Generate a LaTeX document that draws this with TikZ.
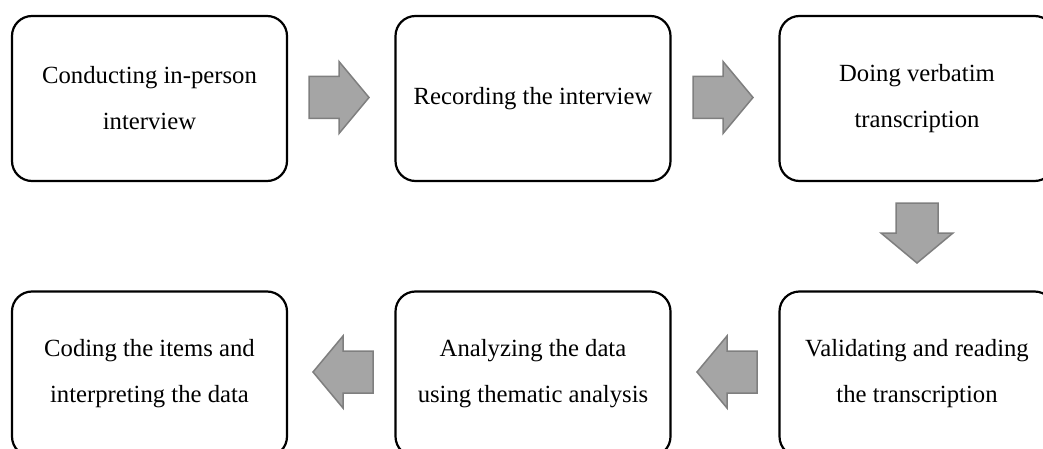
\documentclass[tikz,border=0pt]{standalone}
\usepackage{fontspec}
\setmainfont{Liberation Serif}
\definecolor{arrowfill}{RGB}{165,165,165}
\definecolor{arrowline}{RGB}{127,127,127}
\tikzset{
  stepbox/.style={draw=black, line width=2.2pt, rounded corners=20pt,
    minimum width=275pt, minimum height=165pt, inner sep=0pt,
    align=center, font=\fontsize{24.7}{46}\selectfont},
  flowarrow/.style={draw=arrowline, fill=arrowfill, line width=1.5pt,
    line join=miter},
  % block arrow pointing along +x, centred on the origin
  pics/blockarrow/.style={code={
    \path[flowarrow] (-30,-21) -- (0,-21) -- (0,-36) -- (30,0)
      -- (0,36) -- (0,21) -- (-30,21) -- cycle;
  }}
}
\begin{document}
\begin{tikzpicture}[x=1pt, y=-1pt]
  \useasboundingbox (0,0) rectangle (1043,449);
  \begin{scope}
    \clip (0,0) rectangle (1043,449);
    % top row
    \node[stepbox] (interview) at (149.5,98.5) {Conducting in-person\\interview};
    \node[stepbox] (record)    at (533,98.5)   {Recording the interview};
    \node[stepbox] (transcr)   at (917,98.5)   {Doing verbatim\\transcription};
    % bottom row
    \node[stepbox] (validate)  at (917,374)    {Validating and reading\\the transcription};
    \node[stepbox] (analyze)   at (533,374)    {Analyzing the data\\using thematic analysis};
    \node[stepbox] (coding)    at (149.5,374)  {Coding the items and\\interpreting the data};
    % anchor points of the block arrows between the steps
    \coordinate (a1) at (339,97.5);
    \coordinate (a2) at (723,97.5);
    \coordinate (a3) at (917,233);
    \coordinate (a4) at (727,372);
    \coordinate (a5) at (343,372);
    \pic[shift={(a1)}] {blockarrow};
    \pic[shift={(a2)}] {blockarrow};
    \pic[shift={(a3)}, rotate=-90] {blockarrow};
    \pic[shift={(a4)}, rotate=180] {blockarrow};
    \pic[shift={(a5)}, rotate=180] {blockarrow};
  \end{scope}
\end{tikzpicture}
\end{document}
